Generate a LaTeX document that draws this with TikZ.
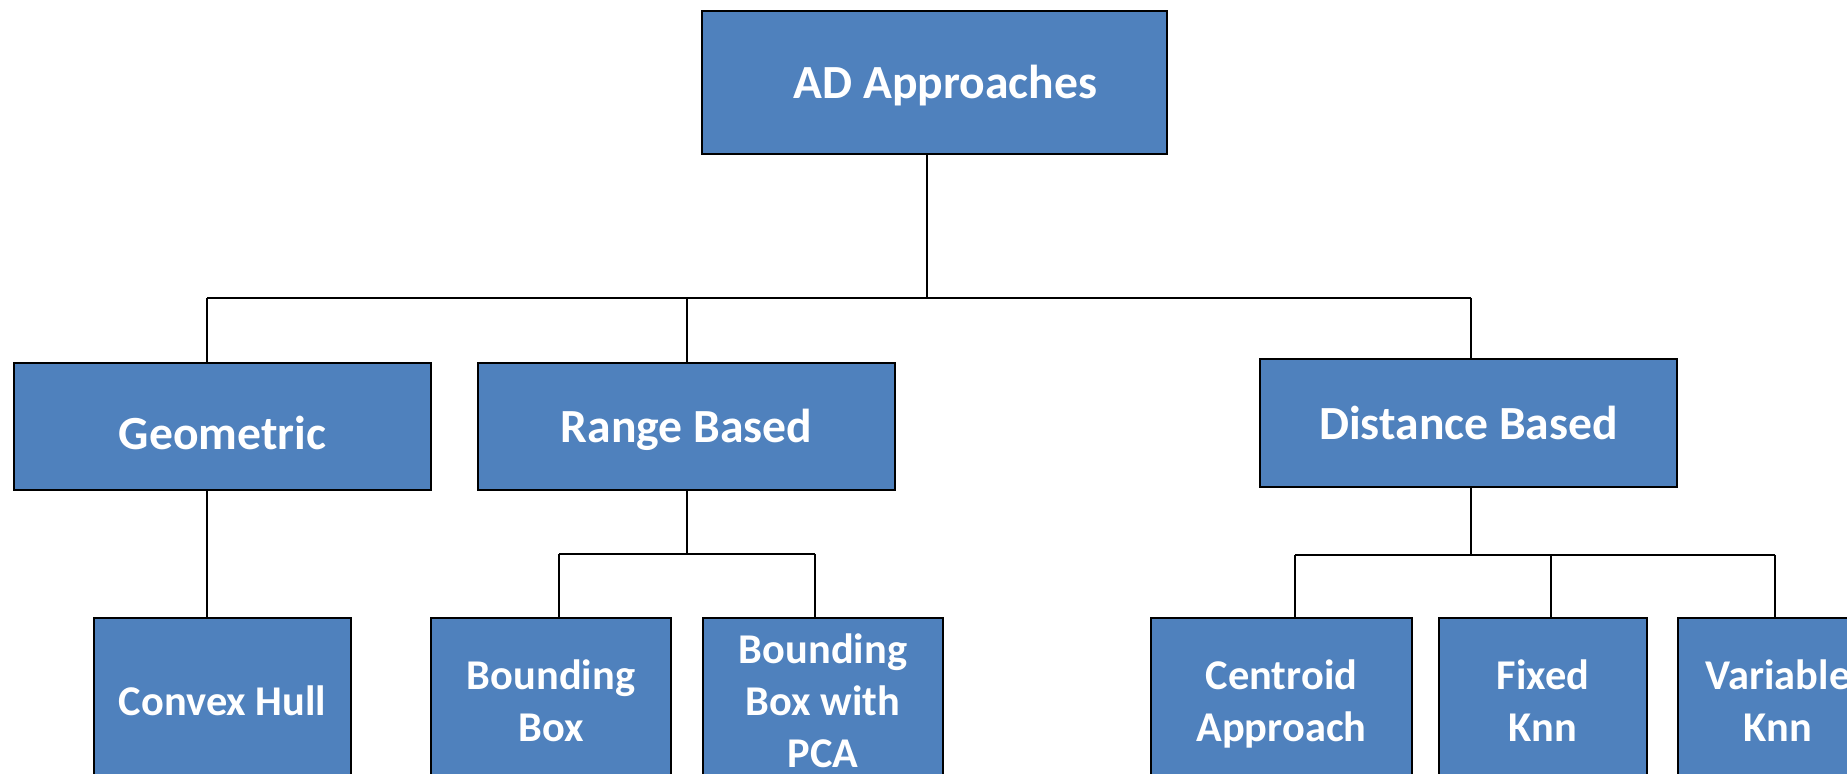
\documentclass[tikz,border=0pt]{standalone}
\usepackage{fontspec}
\setmainfont{Carlito}
\definecolor{boxblue}{HTML}{4F81BD}
\begin{document}
\begin{tikzpicture}[x=0.5pt, y=-0.5pt,
  box/.style={draw=black, line width=1pt, fill=boxblue, text=white,
    inner sep=0pt, align=center, font=\bfseries},
  upper/.style={box, font=\fontsize{23.8}{28}\selectfont\bfseries,
    minimum width=208.5pt, minimum height=63.5pt,
    text height=20.8pt, text depth=4.5pt},
  lower/.style={box, font=\fontsize{21.2}{25.8}\selectfont\bfseries,
    minimum height=86pt, execute at end node={\vphantom{p}}},
  link/.style={draw=black, line width=1pt}]
\useasboundingbox (0,0) rectangle (1847,774);
\clip (0,0) rectangle (1847,774);

% root
\node[upper, minimum width=232.5pt, minimum height=71.5pt] (ad) at (934.5,82.5) {\hspace*{11pt}AD Approaches};

% first level
\node[upper, text height=27.6pt] (geo) at (222.5,426.5) {Geometric};
\node[upper] (rng)  at (686.5,426.5) {Range Based};
\node[upper, minimum height=64pt] (dist) at (1468.5,423) {Distance Based};

% second level
\node[lower, minimum width=128.5pt] (hull) at (222.5,704) {Convex Hull};
\node[lower, minimum width=120pt]   (bbox) at (551,704)   {Bounding\\Box};
\node[lower, minimum width=120pt]   (pca)  at (823,704)   {Bounding\\Box with\\PCA};
\node[lower, minimum width=130.5pt] (cent) at (1281.5,704) {Centroid\\Approach};
\node[lower, minimum width=104pt]   (fknn) at (1543,704)  {Fixed\\Knn};
\node[lower, minimum width=100pt]   (vknn) at (1778,704)  {Variable\\Knn};

% junction points
\coordinate (j0) at (927,298);
\coordinate (b1L) at (207,298);
\coordinate (b1M) at (687,298);
\coordinate (b1R) at (1471,298);
\coordinate (b2L) at (559,554);
\coordinate (b2R) at (815,554);
\coordinate (b3L) at (1295,555);
\coordinate (b3M) at (1551,555);
\coordinate (b3R) at (1775,555);

% root to first level
\draw[link] (ad.south -| j0) -- (j0);
\draw[link] (b1L) -- (b1R);
\draw[link] (b1L) -- (b1L |- geo.north);
\draw[link] (b1M) -- (b1M |- rng.north);
\draw[link] (b1R) -- (b1R |- dist.north);

% Geometric
\draw[link] (b1L |- geo.south) -- (b1L |- hull.north);

% Range Based
\draw[link] (rng.south -| b1M) -- (b1M |- b2L);
\draw[link] (b2L) -- (b2R);
\draw[link] (b2L) -- (b2L |- bbox.north);
\draw[link] (b2R) -- (b2R |- pca.north);

% Distance Based
\draw[link] (dist.south -| b1R) -- (b1R |- b3L);
\draw[link] (b3L) -- (b3R);
\draw[link] (b3L) -- (b3L |- cent.north);
\draw[link] (b3M) -- (b3M |- fknn.north);
\draw[link] (b3R) -- (b3R |- vknn.north);
\end{tikzpicture}
\end{document}
